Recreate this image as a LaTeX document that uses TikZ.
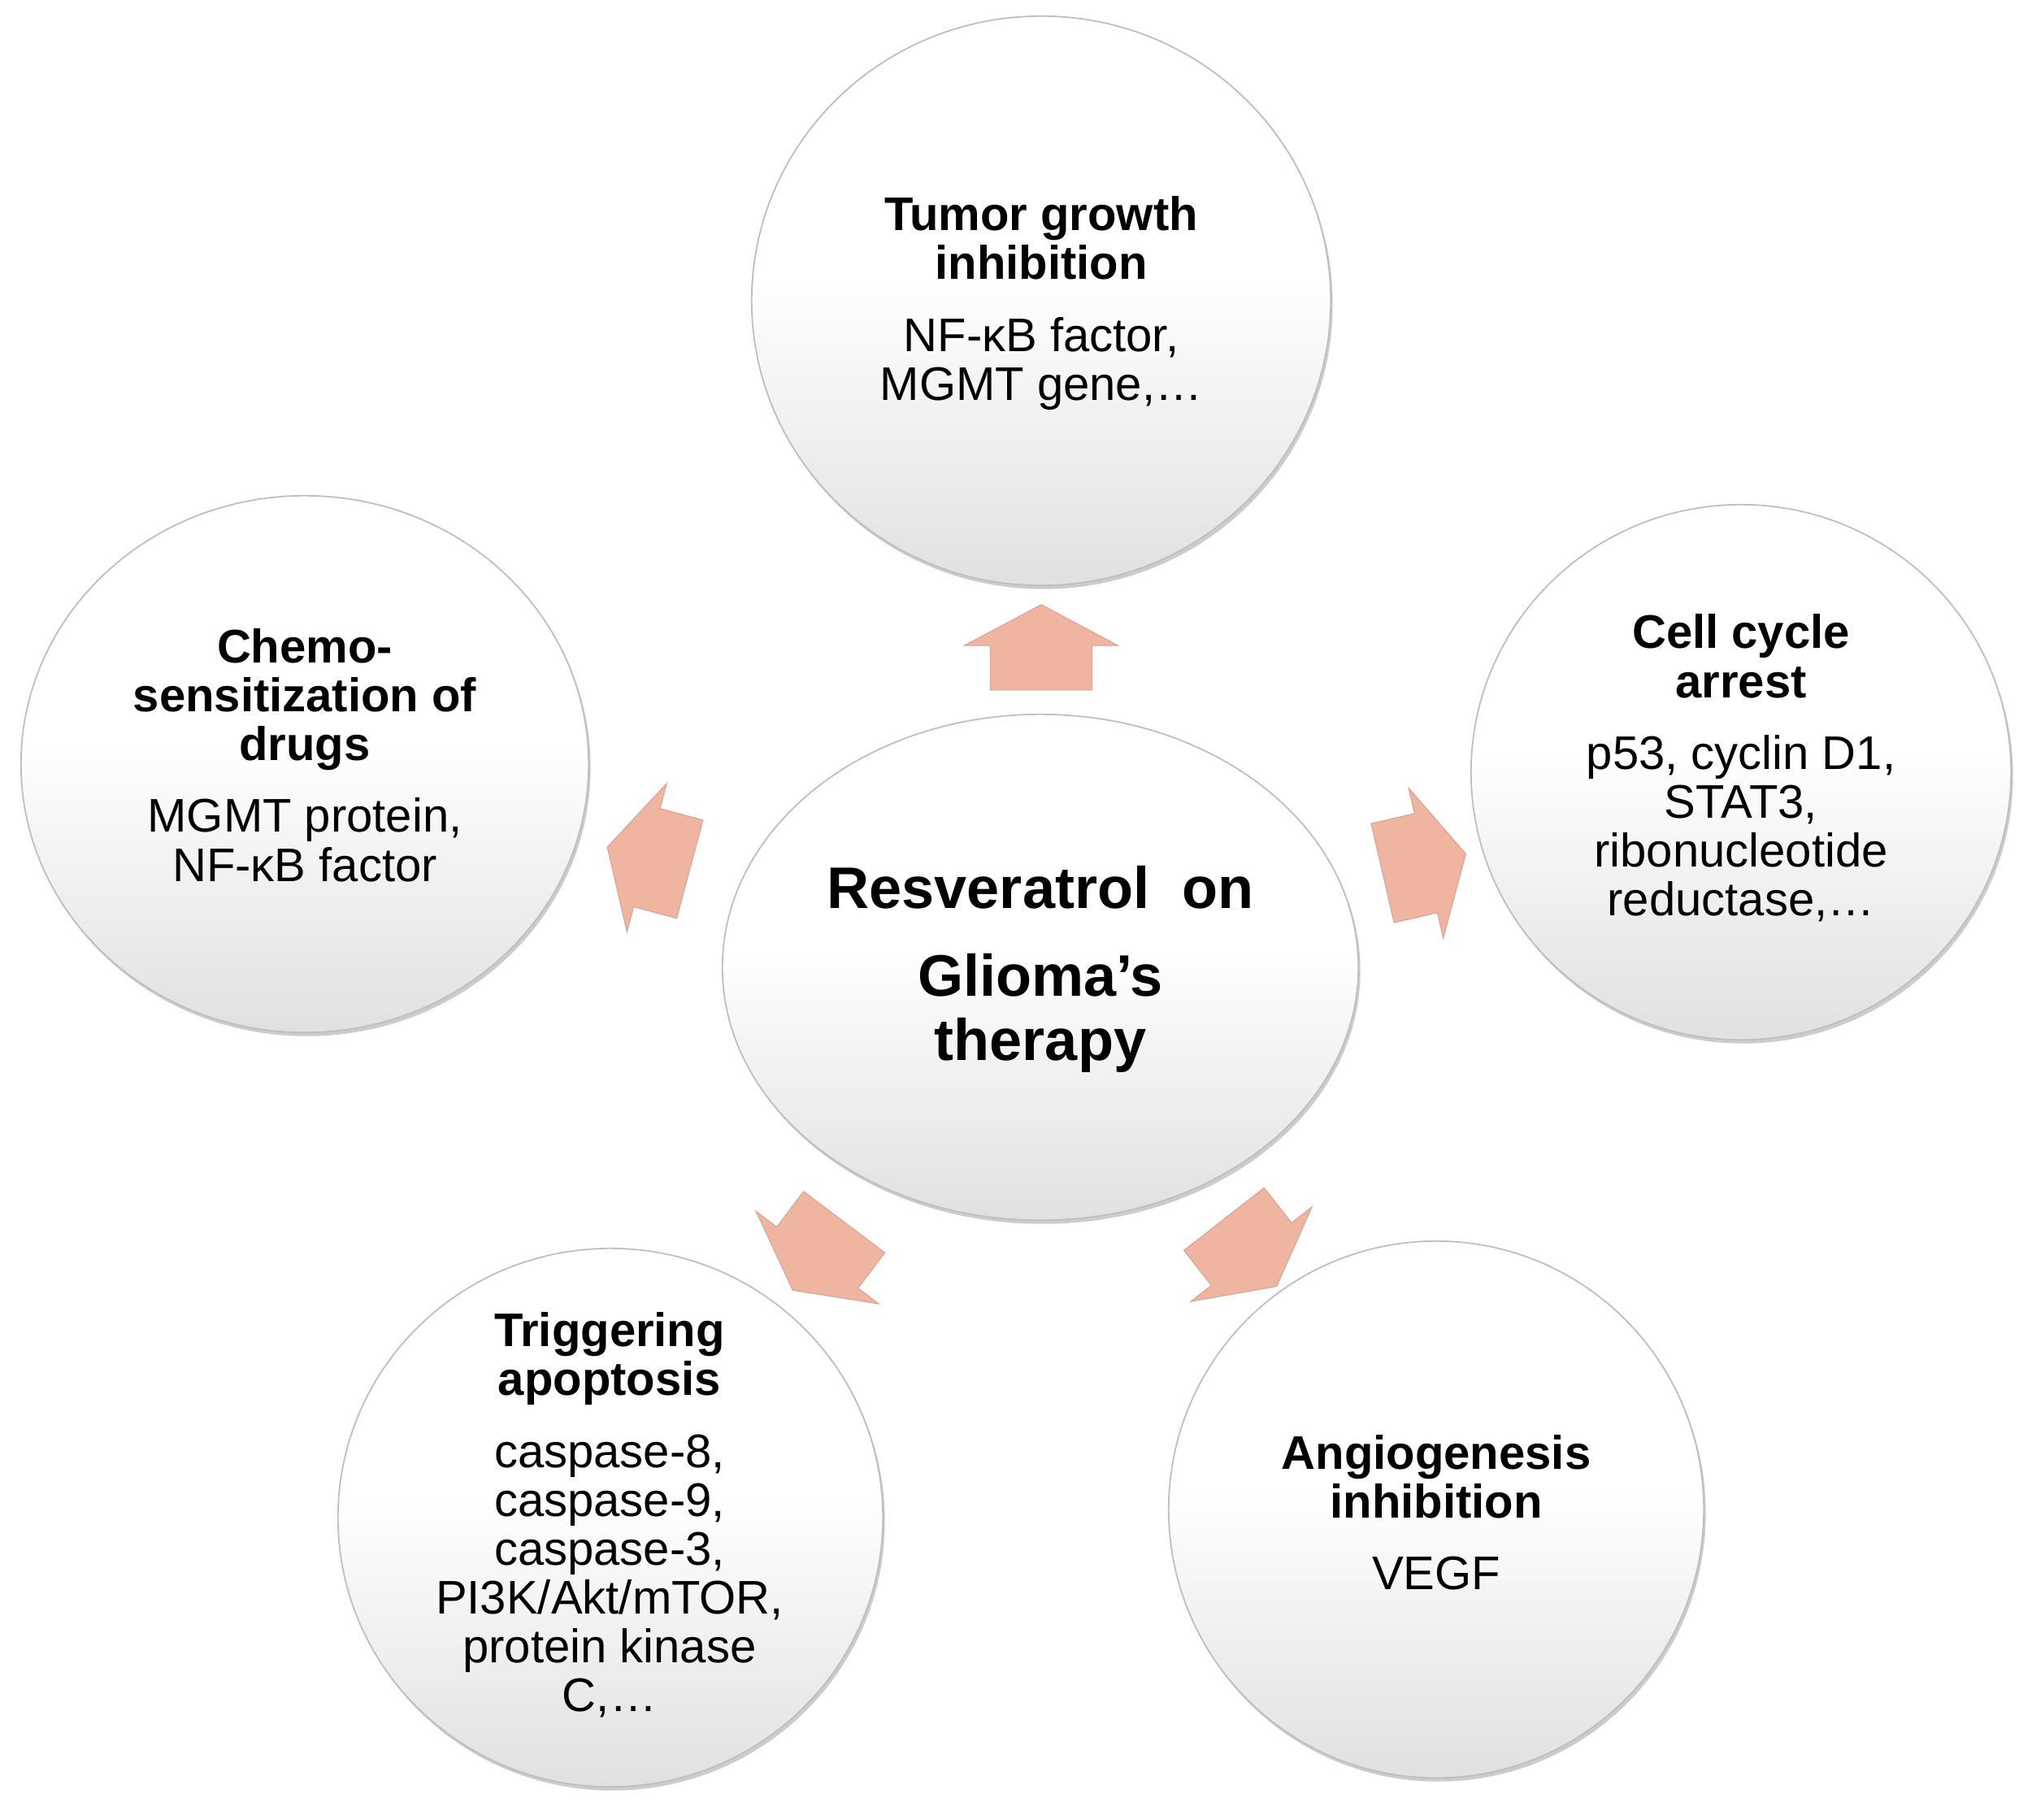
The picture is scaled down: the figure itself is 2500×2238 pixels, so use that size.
\documentclass[tikz,border=0pt]{standalone}
\usepackage{fontspec}
\setmainfont{Liberation Sans}
\usetikzlibrary{shapes.geometric}
\usetikzlibrary{shapes.arrows}
\usetikzlibrary{shadows}

\definecolor{arrowfill}{RGB}{240,181,161}
\definecolor{ringline}{RGB}{190,190,190}
\pgfdeclareverticalshading{bubbleshade}{100bp}{color(0bp)=(black!12); color(25bp)=(black!12); color(52bp)=(white); color(100bp)=(white)}

\tikzset{
  bubble/.style={ellipse, draw=ringline, line width=.5pt, shading=bubbleshade,
    drop shadow={shadow xshift=.025cm, shadow yshift=-.045cm, opacity=.4}},
  bubbletext/.style={align=center, inner sep=0pt, font=\fontsize{16.5}{17.1}\selectfont},
  fatarrow/.style={single arrow, fill=arrowfill, draw=arrowfill!90!black, line width=.3pt, minimum height=1.05cm,
    inner xsep=0pt, inner ysep=.62cm, single arrow head extend=.32cm, single arrow tip angle=124},
}

\begin{document}
\begin{tikzpicture}[x=0.01cm, y=-0.01cm]
\fill[white] (0,0) rectangle (2500,2238);
\useasboundingbox (0,0) rectangle (2500,2238);

% bubbles
\node[bubble, minimum width=7.12cm, minimum height=7cm]    (tumor) at (1281,370)  {};
\node[bubble, minimum width=6.64cm, minimum height=6.58cm] (cycle) at (2142,950)  {};
\node[bubble, minimum width=6.98cm, minimum height=6.6cm]  (chemo) at (375,940)   {};
\node[bubble, minimum width=6.7cm,  minimum height=6.62cm] (apopt) at (751,1867)  {};
\node[bubble, minimum width=6.58cm, minimum height=6.6cm]  (angio) at (1767,1857) {};
\node[bubble, minimum width=7.82cm, minimum height=6.22cm] (resv)  at (1280,1190) {};

% texts
\node[bubbletext] (tumor-txt) at (1281,373) {\bfseries Tumor growth\\\bfseries inhibition\\[8pt]NF-κB factor,\\MGMT gene,…};
\node[bubbletext] (cycle-txt) at (2142,945) {\bfseries Cell cycle\\\bfseries arrest\\[8pt]p53, cyclin D1,\\STAT3,\\ribonucleotide\\reductase,…};
\node[bubbletext] (chemo-txt) at (375,929) {\bfseries Chemo-\\\bfseries sensitization of\\\bfseries drugs\\[8pt]MGMT protein,\\NF-κB factor};
\node[bubbletext] (apopt-txt) at (750,1864) {\bfseries Triggering\\\bfseries apoptosis\\[8pt]caspase-8,\\caspase-9,\\caspase-3,\\PI3K/Akt/mTOR,\\protein kinase\\C,…};
\node[bubbletext] (angio-txt) at (1767,1861) {\bfseries Angiogenesis\\\bfseries inhibition\\[8pt]VEGF};
\node[bubbletext, font=\fontsize{20.5}{22.2}\selectfont\bfseries] (resv-txt) at (1280,1192) {Resveratrol\ \ on\\[8.7pt]Glioma’s\\therapy};

% arrows out of the centre
\foreach \nm/\px/\py/\ang in {up/1281/813/90, left/814/1060/165, right/1736/1066/13, dl/1017/1532/233, dr/1528/1528/-52}
  \node[fatarrow, rotate=\ang] (arr-\nm) at (\px,\py) {};
\end{tikzpicture}
\end{document}
